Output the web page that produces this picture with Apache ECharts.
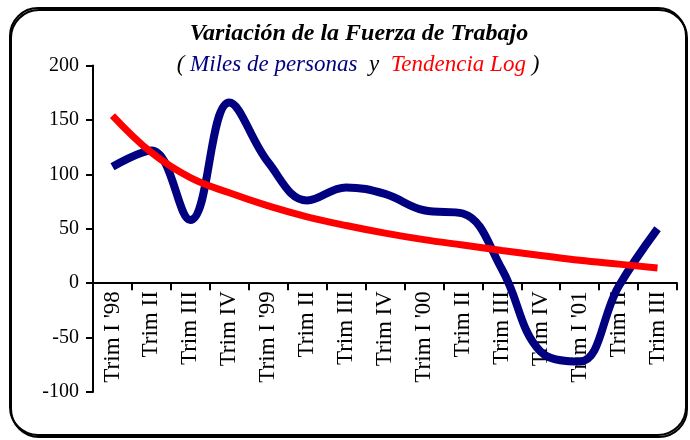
<!DOCTYPE html>
<html>
<head>
<meta charset="utf-8">
<title>Variacion de la Fuerza de Trabajo</title>
<script src="https://cdn.jsdelivr.net/npm/echarts@6/dist/echarts.min.js"></script>
</head>
<body style="margin:0;background:#fff;overflow:hidden;">
<div id="main" style="width:690px;height:440px;"></div>
<script>
    // trimestres 1998 - 2001
    var trimestres = ["Trim I '98", 'Trim II', 'Trim III', 'Trim IV',
        "Trim I '99", 'Trim II', 'Trim III', 'Trim IV',
        "Trim I '00", 'Trim II', 'Trim III', 'Trim IV',
        "Trim I '01", 'Trim II', 'Trim III'];
    // miles de personas (variacion)
    var miles = [107, 122, 58, 166, 111, 76, 88, 82, 67, 64, 13, -63, -72, -3, 50];
    // tendencia log
    var tendencia = [154, 120, 97, 83, 71, 61, 53, 46, 40, 35, 30, 25.5, 21, 17.5, 14];

    var yMin = -100, yMax = 200;
    var gridTop = 65.5, gridBottom = 48, chartH = 440;
    // el eje x cruza en cero: desplazarlo desde el borde inferior del grid
    var plotH = chartH - gridTop - gridBottom;
    var xOffset = -plotH * (0 - yMin) / (yMax - yMin);

    var serif = 'Liberation Serif';
    var myChart = echarts.init(document.getElementById('main'));
    myChart.setOption({
        animation: false,
        backgroundColor: '#fff',
        graphic: [{
            type: 'rect',
            shape: {x: 10, y: 8, width: 676, height: 427, r: 28},
            style: {
                fill: null,
                stroke: '#000',
                lineWidth: 2,
                shadowColor: '#000',
                shadowOffsetX: 1,
                shadowOffsetY: 2
            },
            z: -1
        }],
        title: [{
            text: 'Variación de la Fuerza de Trabajo',
            left: 354,
            top: 17,
            textAlign: 'center',
            textStyle: {
                fontFamily: serif,
                fontStyle: 'italic',
                fontWeight: 'bold',
                fontSize: 24,
                color: '#000'
            }
        }, {
            text: '{a|( }{b|Miles de personas}{a|  y  }{c|Tendencia Log}{a| )}',
            left: 353,
            top: 48,
            textAlign: 'center',
            textStyle: {
                rich: {
                    a: {fontFamily: serif, fontStyle: 'italic', fontWeight: 'normal', fontSize: 23, color: '#000'},
                    b: {fontFamily: serif, fontStyle: 'italic', fontWeight: 'normal', fontSize: 23, color: '#000080'},
                    c: {fontFamily: serif, fontStyle: 'italic', fontWeight: 'normal', fontSize: 23, color: '#ff0000'}
                }
            }
        }],
        grid: {
            left: 93,
            right: 13,
            top: gridTop,
            bottom: gridBottom,
            outerBoundsMode: 'none'
        },
        xAxis: {
            type: 'category',
            data: trimestres,
            boundaryGap: true,
            offset: xOffset,
            axisLine: {onZero: false, lineStyle: {color: '#000', width: 2}},
            axisTick: {show: true, length: 7, lineStyle: {color: '#000', width: 2}},
            axisLabel: {
                rotate: 90,
                interval: 0,
                margin: 8,
                fontFamily: serif,
                fontSize: 23,
                color: '#000'
            },
            splitLine: {show: false}
        },
        yAxis: {
            type: 'value',
            min: yMin,
            max: yMax,
            interval: 50,
            axisLine: {show: true, lineStyle: {color: '#000', width: 2}},
            axisTick: {show: true, length: 7, lineStyle: {color: '#000', width: 2}},
            axisLabel: {
                margin: 14,
                fontFamily: serif,
                fontSize: 20,
                color: '#000'
            },
            splitLine: {show: false}
        },
        series: [{
            name: 'Miles de personas',
            type: 'line',
            data: miles,
            smooth: 0.4,
            showSymbol: false,
            lineStyle: {color: '#000080', width: 8, cap: 'butt'}
        }, {
            name: 'Tendencia Log',
            type: 'line',
            data: tendencia,
            smooth: 0.4,
            showSymbol: false,
            lineStyle: {color: '#ff0000', width: 7, cap: 'butt'}
        }]
    });
</script>
</body>
</html>
